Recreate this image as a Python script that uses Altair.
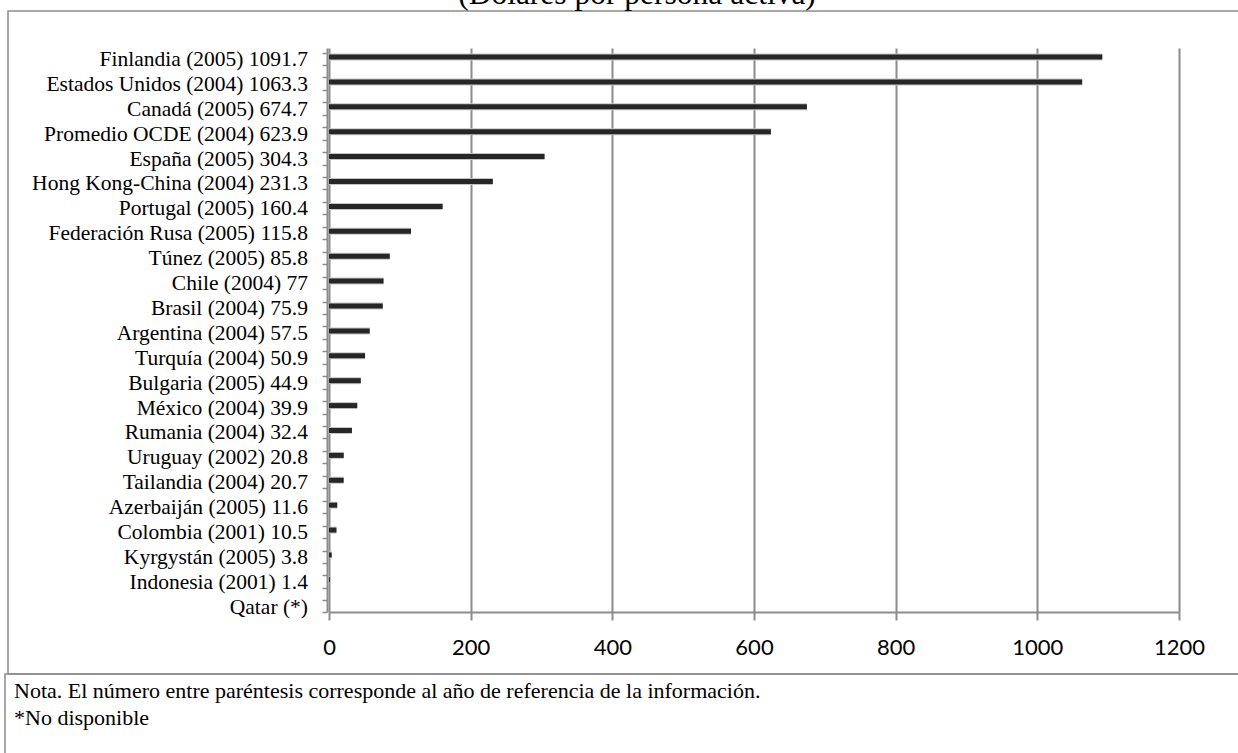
import altair as alt
import pandas as pd

# Gasto en I+D por persona activa (dólares), con año de referencia
paises = ["Finlandia", "Estados Unidos", "Canadá", "Promedio OCDE", "España",
          "Hong Kong-China", "Portugal", "Federación Rusa", "Túnez", "Chile",
          "Brasil", "Argentina", "Turquía", "Bulgaria", "México", "Rumania",
          "Uruguay", "Tailandia", "Azerbaiján", "Colombia", "Kyrgystán",
          "Indonesia", "Qatar"]
anios = [2005, 2004, 2005, 2004, 2005, 2004, 2005, 2005, 2005, 2004, 2004,
         2004, 2004, 2005, 2004, 2004, 2002, 2004, 2005, 2001, 2005, 2001, None]
gasto = [1091.7, 1063.3, 674.7, 623.9, 304.3, 231.3, 160.4, 115.8, 85.8, 77,
         75.9, 57.5, 50.9, 44.9, 39.9, 32.4, 20.8, 20.7, 11.6, 10.5, 3.8, 1.4, None]
x_ticks = [0, 200, 400, 600, 800, 1000, 1200]

titulo = "(Dólares por persona activa)"
nota_1 = "Nota. El número entre paréntesis corresponde al año de referencia de la información."
nota_2 = "*No disponible"

# plot-area geometry (pixels)
L, T, W, H = 329, 48, 850, 564
FULL_W, FULL_H = 1238, 753
GRAY = "#8c8c8c"
SERIF = "Liberation Serif"


def etiqueta(p, a, v):
    if v is None:
        return f"{p} (*)"
    return f"{p} ({a}) {v:g}"


df = pd.DataFrame({
    "idx": list(range(len(paises))),
    "etiqueta": [etiqueta(p, a, v) for p, a, v in zip(paises, anios, gasto)],
    "gasto": gasto,
})

y_dom = [-0.482, 22.17]
y_ticks = [round(-0.3 + 0.5 * k, 2) for k in range(45)] + [22.17]

y_scale = alt.Scale(domain=y_dom, reverse=True, nice=False, zero=False)
x_scale = alt.Scale(domain=[0, 1200], nice=False)

x_axis = alt.Axis(
    values=x_ticks, grid=True, gridColor=GRAY, gridWidth=2,
    domainColor=GRAY, domainWidth=2, tickColor=GRAY, tickWidth=2,
    tickSize=8, labelFont="Lato", labelFontSize=22, labelColor="#000000",
    labelPadding=17, labelFlush=False, format="d")
y_axis = alt.Axis(
    values=y_ticks, labels=False, grid=False, domainColor=GRAY, offset=2,
    domainWidth=2, tickColor=GRAY, tickWidth=1.5, tickSize=5)

base = alt.Chart(df)
con_valor = base.transform_filter("isValid(datum.gasto)")

halo = con_valor.mark_rule(
    strokeWidth=7, color="#c4c4c4", yOffset=-3, strokeCap="butt"
).encode(
    x=alt.X("gasto:Q", scale=x_scale, title=None, axis=x_axis),
    x2=alt.value(0),
    y=alt.Y("idx:Q", scale=y_scale, title=None, axis=y_axis),
)

barras = con_valor.mark_rule(
    strokeWidth=5, color="#262626", yOffset=-3, strokeCap="butt"
).encode(
    x=alt.X("gasto:Q", scale=x_scale, title=None, axis=x_axis),
    x2=alt.value(0),
    y=alt.Y("idx:Q", scale=y_scale, title=None, axis=y_axis),
)

etiquetas = base.mark_text(
    align="right", baseline="middle", font=SERIF, fontSize=21.5, color="#000000"
).encode(
    x=alt.value(-21),
    y=alt.Y("idx:Q", scale=y_scale, title=None, axis=y_axis),
    text="etiqueta:N",
)

uno = alt.Chart(pd.DataFrame({"k": [0]}))

marco = uno.mark_rect(filled=False, stroke=GRAY, strokeWidth=1.5).encode(
    x=alt.value(8 - L), x2=alt.value(FULL_W + 5 - L),
    y=alt.value(11 - T), y2=alt.value(674 - T),
)
marco_nota = uno.mark_rect(filled=False, stroke=GRAY, strokeWidth=1.5).encode(
    x=alt.value(5 - L), x2=alt.value(FULL_W + 5 - L),
    y=alt.value(674 - T), y2=alt.value(FULL_H + 10 - T),
)

texto_titulo = uno.mark_text(
    align="center", baseline="alphabetic", font=SERIF, fontSize=31.5, color="#000000"
).encode(x=alt.value(637 - L), y=alt.value(4 - T), text=alt.value(titulo))

texto_nota1 = uno.mark_text(
    align="left", baseline="middle", font=SERIF, fontSize=22, color="#000000"
).encode(x=alt.value(14 - L), y=alt.value(691 - T), text=alt.value(nota_1))

texto_nota2 = uno.mark_text(
    align="left", baseline="middle", font=SERIF, fontSize=22, color="#000000"
).encode(x=alt.value(14 - L), y=alt.value(718 - T), text=alt.value(nota_2))

chart = alt.layer(
    halo, barras, etiquetas, marco, marco_nota, texto_titulo, texto_nota1, texto_nota2
).properties(
    width=W, height=H,
    autosize=alt.AutoSizeParams(type="none"),
    padding={"left": L, "top": T, "right": FULL_W - L - W, "bottom": FULL_H - T - H},
    background="#ffffff",
).configure_view(strokeWidth=0)

chart.save("out.html", embed_options={"renderer": "svg", "actions": False})
